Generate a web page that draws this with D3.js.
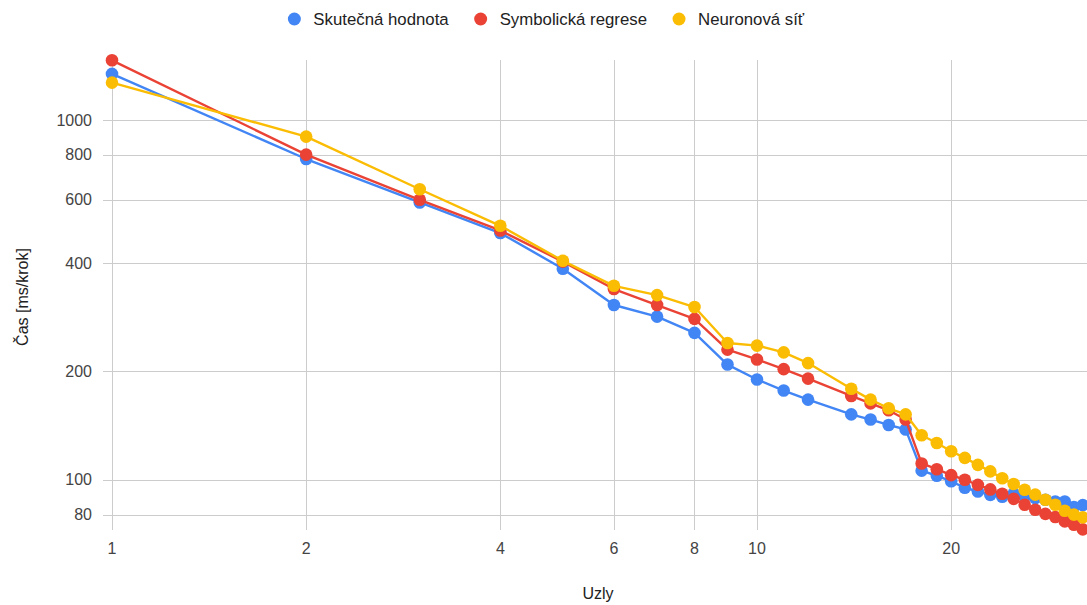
<!DOCTYPE html>
<html>
<head>
<meta charset="utf-8">
<script src="https://cdn.jsdelivr.net/npm/d3@7"></script>
<style>
  html, body { margin: 0; padding: 0; background: #fff; }
  svg { display: block; font-family: Arial, "Liberation Sans", sans-serif; }
</style>
</head>
<body>
<svg id="chart" width="1087" height="605"></svg>
<script>
// ---- data ----
const nodes = [1,2,3,4,5,6,7,8,9,10,11,12,14,15,16,17,18,19,20,21,22,23,24,25,26,27,28,29,30,31,32];
const actual = [1343,779,590,485,386,306,284,256,209,190,177,167,152,147,142,138,106,102.6,99,95,92.8,90.8,89.7,91.5,90,89,88,87,87,84,85];
const symbolic = [1465,801,600,493,404,339,306,280,230,216,203,191,171,163,156,147,111,107,103,100,96.8,94,91.4,88.5,85.2,82.5,80.4,78.8,76.6,75,72.8];
const neural = [1270,899,642,508,406,346,326,302,240,236,226,211,179,167,158,152,133,126.5,120,115,110,105.5,101,97.3,93.8,90.9,88,85.2,82,80,78.6];
const seriesNames = ["Skutečná hodnota", "Symbolická regrese", "Neuronová síť"];
const seriesColors = ["#4285F4", "#EA4335", "#FBBC04"];
const xTicks = [1,2,4,6,8,10,20];
const yTicks = [80,100,200,400,600,800,1000];
const xTitle = "Uzly";
const yTitle = "Čas [ms/krok]";

const series = [actual, symbolic, neural].map((vals, i) => ({
  name: seriesNames[i], color: seriesColors[i],
  points: nodes.map((n, j) => ({x: n, y: vals[j]}))
}));

// ---- layout ----
const svg = d3.select("#chart");
const plotLeft = 103, plotRight = 1087, plotTop = 60, plotBottom = 530;
const x1px = 112;
const pxPerDecadeX = 645;

const x = d3.scaleLog().domain([1, 32]).range([x1px, x1px + pxPerDecadeX * Math.log10(32)]);
const y = d3.scaleLog().domain([72.5, 1468]).range([plotBottom, plotTop]);

const grid = svg.append("g");
grid.selectAll("line.h").data(yTicks).join("line")
  .attr("x1", plotLeft).attr("x2", plotRight)
  .attr("y1", d => Math.round(y(d)) + 0.5).attr("y2", d => Math.round(y(d)) + 0.5)
  .attr("stroke", "#cccccc").attr("stroke-width", 1);
grid.selectAll("line.v").data(xTicks).join("line")
  .attr("x1", d => Math.round(x(d)) + 0.5).attr("x2", d => Math.round(x(d)) + 0.5)
  .attr("y1", plotTop).attr("y2", plotBottom)
  .attr("stroke", "#cccccc").attr("stroke-width", 1);

// y tick labels
svg.append("g").selectAll("text").data(yTicks).join("text")
  .attr("x", 92).attr("y", d => y(d)).attr("dy", "0.35em")
  .attr("text-anchor", "end").attr("font-size", 16).attr("fill", "#444")
  .text(d => d);

// x tick labels
svg.append("g").selectAll("text").data(xTicks).join("text")
  .attr("x", d => x(d)).attr("y", 548).attr("dy", "0.35em")
  .attr("text-anchor", "middle").attr("font-size", 16).attr("fill", "#444")
  .text(d => d);

// axis titles
svg.append("text").attr("x", 598).attr("y", 593).attr("dy", "0.35em")
  .attr("text-anchor", "middle").attr("font-size", 16).attr("fill", "#222").text(xTitle);
svg.append("text").attr("transform", "translate(22,297) rotate(-90)").attr("dy", "0.35em")
  .attr("text-anchor", "middle").attr("font-size", 16).attr("fill", "#222").text(yTitle);

// series
const line = d3.line().x(d => x(d.x)).y(d => y(d.y));
const sg = svg.append("g");
series.forEach(s => {
  sg.append("path").datum(s.points)
    .attr("d", line).attr("fill", "none")
    .attr("stroke", s.color).attr("stroke-width", 2.4)
    .attr("stroke-linejoin", "round");
  sg.append("g").selectAll("circle").data(s.points).join("circle")
    .attr("cx", d => x(d.x)).attr("cy", d => y(d.y)).attr("r", 6.3)
    .attr("fill", s.color);
});

// legend
const lg = svg.append("g");
let cx = 0;
series.forEach(s => {
  const g = lg.append("g");
  g.append("circle").attr("cx", cx).attr("cy", 19).attr("r", 6.5).attr("fill", s.color);
  const t = g.append("text").attr("x", cx + 19).attr("y", 19).attr("dy", "0.35em")
    .attr("font-size", 16.8).attr("fill", "#222").text(s.name);
  const w = t.node().getComputedTextLength();
  cx = cx + 19 + w + 32;
});
const totalLeft = -6.5;
const totalRight = cx - 32;
const center = 546;
lg.attr("transform", `translate(${center - (totalLeft + totalRight) / 2},0)`);
</script>
</body>
</html>
